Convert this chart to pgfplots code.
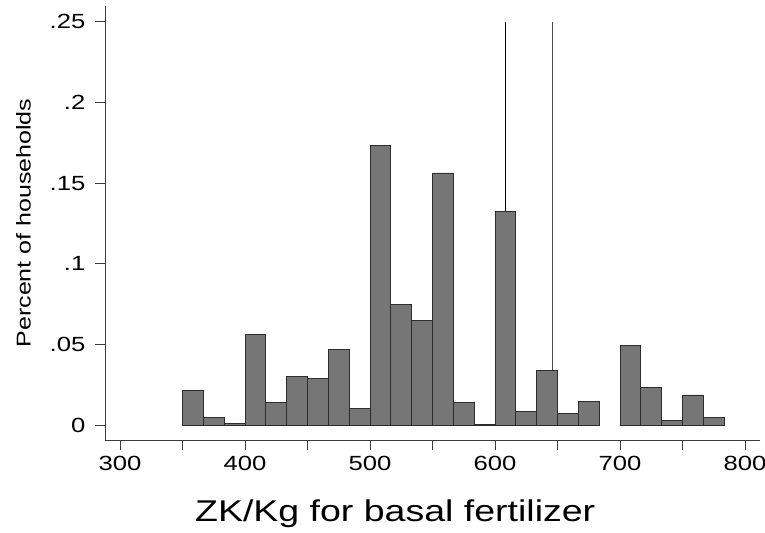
\documentclass[border=0pt]{standalone}
\usepackage{fontspec}
\setmainfont{Liberation Sans}[FakeStretch=1.25]
\usepackage{pgfplots}
\pgfplotsset{compat=1.18}

\definecolor{barfill}{RGB}{118,118,118}
\definecolor{barline}{RGB}{45,45,45}
\definecolor{axisline}{RGB}{60,60,60}

% percent of households per price bin (bin width 50/3)
\pgfplotstableread{
x y
350.000 0.0218
366.667 0.0050
383.333 0.0010
400.000 0.0565
416.667 0.0142
433.333 0.0301
450.000 0.0291
466.667 0.0472
483.333 0.0105
500.000 0.1735
516.667 0.0751
533.333 0.0650
550.000 0.1563
566.667 0.0142
583.333 0.0007
600.000 0.1325
616.667 0.0084
633.333 0.0342
650.000 0.0072
666.667 0.0150
683.333 0
}\lowbins
\pgfplotstableread{
x y
700.000 0.0497
716.667 0.0235
733.333 0.0031
750.000 0.0188
766.667 0.0050
783.333 0
}\highbins

\begin{document}
\begin{tikzpicture}
\useasboundingbox (-105bp,-93bp) rectangle (660bp,440bp);
\begin{axis}[
    scale only axis,
    width=655bp, height=434bp,
    at={(0,0)}, anchor=south west,
    xmin=288, xmax=812,
    ymin=-0.0091, ymax=0.2597,
    axis x line*=bottom, axis y line*=left,
    axis line style={-, draw=axisline, line width=0.8bp},
    tick align=outside,
    major tick length=9.5bp, minor tick length=9.5bp,
    tick style={draw=axisline, line width=0.8bp},
    xtick={300,400,...,800},
    minor xtick={350,450,...,750},
    ytick={0,0.05,0.1,0.15,0.2,0.25},
    yticklabels={0,.05,.1,.15,.2,.25},
    /pgf/number format/assume math mode=true,
    /pgf/number format/1000 sep={},
    ticklabel style={font=\fontsize{20.5bp}{24bp}\selectfont},
    xticklabel style={inner sep=0pt, yshift=-6bp},
    yticklabel style={inner sep=0pt, xshift=-10bp},
    xlabel={ZK/Kg for basal fertilizer},
    xlabel style={at={(axis description cs:0.443,-0.188)}, anchor=base,
        inner sep=0pt, font=\fontsize{30bp}{35bp}\selectfont},
    ylabel={Percent of households},
    ylabel style={at={(axis description cs:-0.1134,0.5)}, anchor=base,
        inner sep=0pt, font=\fontsize{20bp}{24bp}\selectfont},
]
\addplot[black, line width=0.8bp] coordinates {(608,0) (608,0.25)};
\addplot[black!70, line width=0.8bp] coordinates {(646,0) (646,0.25)};
\addplot[ybar interval, fill=barfill, draw=barline, line width=0.8bp]
    table[x=x, y=y] {\lowbins};
\addplot[ybar interval, fill=barfill, draw=barline, line width=0.8bp]
    table[x=x, y=y] {\highbins};
\end{axis}
\end{tikzpicture}
\end{document}
